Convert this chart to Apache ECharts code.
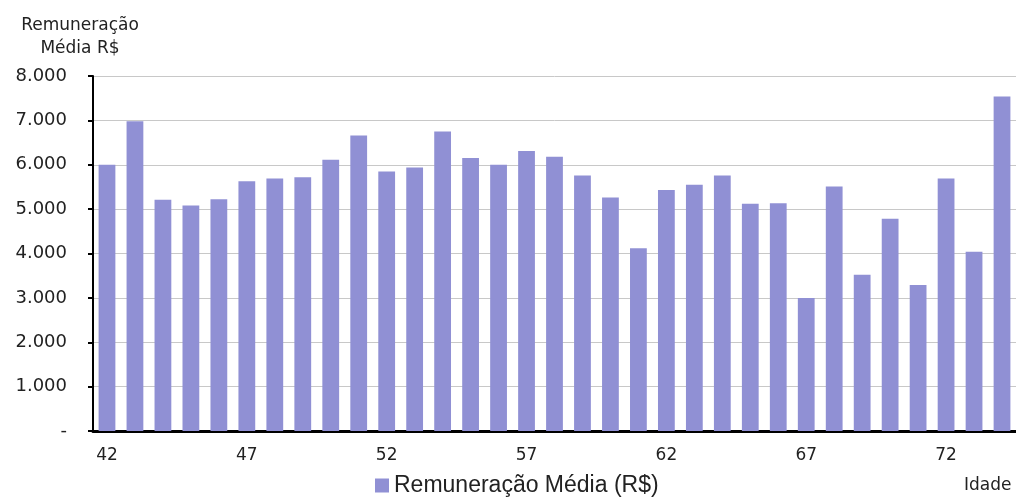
<!DOCTYPE html>
<html>
<head>
<meta charset="utf-8">
<script src="https://cdn.jsdelivr.net/npm/echarts@6/dist/echarts.min.js"></script>
<style>html,body{margin:0;padding:0;background:#fff;}#c{width:1016px;height:502px;}</style>
</head>
<body>
<div id="c"></div>
<script>
var ages = ['42','43','44','45','46','47','48','49','50','51','52','53','54','55','56','57','58','59','60','61','62','63','64','65','66','67','68','69','70','71','72','73','74'];
var remuneracao = [6000,6980,5210,5080,5220,5630,5690,5720,6110,6660,5850,5940,6750,6150,6000,6310,6180,5760,5260,4120,5430,5550,5760,5120,5130,2995,5510,3520,4785,3290,5690,4040,7540];
var seriesName = 'Remuneração Média (R$)';
var yTitle = 'Remuneração\nMédia R$';
var xTitle = 'Idade';

var chart = echarts.init(document.getElementById('c'));
var fam = 'DejaVu Sans';
chart.setOption({
  animation: false,
  backgroundColor: '#ffffff',
  title: {
    text: yTitle, left: 75, top: 9, textAlign: 'center',
    textStyle: {fontFamily: fam, fontSize: 17, fontWeight: 'normal', color: '#222', lineHeight: 23}
  },
  legend: {
    bottom: 0, left: 370, icon: 'rect', itemWidth: 14, itemHeight: 14, itemGap: 6,
    textStyle: {fontFamily: 'Liberation Sans', fontSize: 23, color: '#222'},
    data: [seriesName]
  },
  graphic: [{
    type: 'text', left: 964, top: 477,
    style: {text: xTitle, fontFamily: fam, fontSize: 17, fill: '#222'}
  }],
  grid: {left: 93, right: 0, top: 76, bottom: 71, containLabel: false},
  xAxis: {
    type: 'category', data: ages,
    axisLine: {lineStyle: {color: '#000', width: 3}},
    axisTick: {interval: 4, length: 5, lineStyle: {color: '#000', width: 2}},
    axisLabel: {interval: 4, fontFamily: fam, fontSize: 17, color: '#222', margin: 16},
    splitLine: {show: false}
  },
  yAxis: {
    type: 'value', min: 0, max: 8000, interval: 1000,
    axisLine: {show: true, lineStyle: {color: '#000', width: 2}},
    axisTick: {show: true, length: 5, lineStyle: {color: '#000', width: 2}},
    axisLabel: {
      fontFamily: fam, fontSize: 18, color: '#222', margin: 26,
      formatter: function (v) { return v === 0 ? '-' : (v / 1000).toFixed(0) + '.000'; }
    },
    splitLine: {lineStyle: {color: '#c8c8c8', width: 1}}
  },
  series: [{
    name: seriesName, type: 'bar', data: remuneracao, barWidth: '60%',
    itemStyle: {color: '#9090d4'}
  }]
});
</script>
</body>
</html>
